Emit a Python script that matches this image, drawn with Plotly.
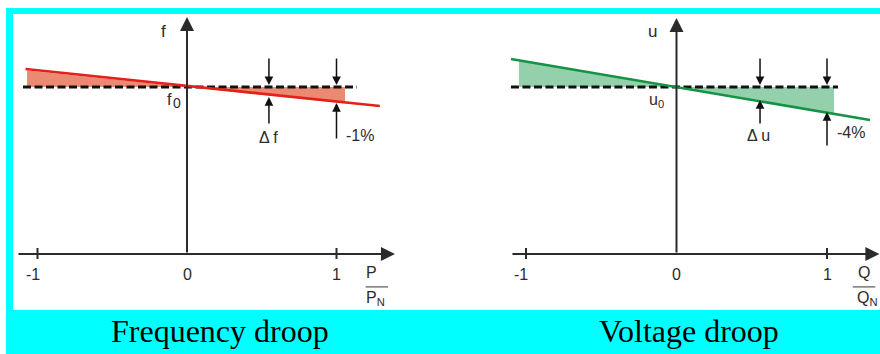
import plotly.graph_objects as go

# ---------------- data ----------------
ticks = [-1, 0, 1]
tick_labels = ["-1", "0", "1"]
ref_level = 1.0            # f0 / u0 reference level (x axis at 0)

# frequency droop (left)
freq_line_x = [-1.08, 1.29]
freq_line_y = [1.108, 0.886]
freq_fill_x = [-1.07, -1.07, 0.0, 1.057, 1.057, 0.0, -1.07]
freq_fill_y = [1.0, 1.0995, 1.0, 0.9017, 1.0, 1.0, 1.0]
freq_dash_x = [-1.097, 1.137]
freq_mark_x = [0.548, 1.0]          # positions of Δf and -1% markers
freq_mark_tip = [0.940, 0.904]      # droop line level at markers
freq_mark_tail = [0.772, 0.683]
freq_labels = ["\u0394 f", "-1%"]

# voltage droop (right)
volt_line_x = [-1.10, 1.286]
volt_line_y = [1.168, 0.802]
volt_fill_x = [-1.047, -1.047, 0.0, 1.047, 1.047, 0.0, -1.047]
volt_fill_y = [1.0, 1.1606, 1.0, 0.8394, 1.0, 1.0, 1.0]
volt_dash_x = [-1.10, 1.073]
volt_mark_x = [0.555, 1.0]
volt_mark_tip = [0.922, 0.850]
volt_mark_tail = [0.772, 0.641]
volt_labels = ["\u0394 u", "-4%"]

captions = ["Frequency droop", "Voltage droop"]

# ---------------- figure ----------------
W, H = 880, 354
AX = "#2b2b2b"
SANS = "Liberation Sans, Arial, sans-serif"
SERIF = "Liberation Serif, Times New Roman, serif"

fig = go.Figure()

def panel(xr, yr, fill_x, fill_y, fill_col, line_x, line_y, line_col, dash_x):
    fig.add_trace(go.Scatter(x=fill_x, y=fill_y, mode="lines", fill="toself",
                             fillcolor=fill_col, line=dict(width=0), xaxis=xr, yaxis=yr,
                             hoverinfo="skip", showlegend=False))
    fig.add_trace(go.Scatter(x=dash_x, y=[ref_level, ref_level], mode="lines",
                             line=dict(color="#111", width=3, dash="8px,3.5px"),
                             xaxis=xr, yaxis=yr, hoverinfo="skip", showlegend=False))
    fig.add_trace(go.Scatter(x=line_x, y=line_y, mode="lines",
                             line=dict(color=line_col, width=2.6),
                             xaxis=xr, yaxis=yr, hoverinfo="skip", showlegend=False))

panel("x", "y", freq_fill_x, freq_fill_y, "rgb(236,137,114)", freq_line_x, freq_line_y,
      "rgb(226,34,26)", freq_dash_x)
panel("x2", "y2", volt_fill_x, volt_fill_y, "rgb(148,208,172)", volt_line_x, volt_line_y,
      "rgb(22,146,70)", volt_dash_x)

annotations = []
shapes = []

# background bands
shapes.append(dict(type="rect", xref="paper", yref="paper", x0=6 / W, x1=1.0,
                   y0=0, y1=1 - 8 / H, fillcolor="#00ffff", line=dict(width=0), layer="below"))
shapes.append(dict(type="rect", xref="paper", yref="paper", x0=13 / W, x1=1.0,
                   y0=1 - 310 / H, y1=1 - 14 / H, fillcolor="#ffffff", line=dict(width=0),
                   layer="below"))

def arrow(xr, yr, x, y, ax, ay, width, size, color=AX, head=2):
    annotations.append(dict(xref=xr, yref=yr, axref=xr, ayref=yr, x=x, y=y, ax=ax, ay=ay,
                            text="", showarrow=True, arrowhead=head, arrowwidth=width,
                            arrowsize=size, arrowcolor=color, standoff=0, startstandoff=0))

def text(xr, yr, x, y, t, size=16, xanchor="center", yanchor="middle", font=SANS, color=AX):
    annotations.append(dict(xref=xr, yref=yr, x=x, y=y, text=t, showarrow=False,
                            xanchor=xanchor, yanchor=yanchor,
                            font=dict(family=font, size=size, color=color)))

def axes_deco(xr, yr, x_start, x_tip, y_tip, ylab, frac_top, frac_bot, frac_x, line_x, bot_x):
    # axes with arrow heads
    arrow(xr, yr, x_tip, 0, x_start, 0, 2, 1.4)
    arrow(xr, yr, 0, y_tip, 0, 0, 2, 1.4)
    # ticks
    for t, lab in zip(ticks, tick_labels):
        if t != 0:
            shapes.append(dict(type="line", xref=xr, yref=yr, x0=t, x1=t, y0=-0.03, y1=0.036,
                               line=dict(color=AX, width=2)))
        text(xr, yr, t - (0.03 if t < 0 else 0), -0.12, lab)
    # axis name
    text(xr, yr, -0.158, 1.33, ylab, size=17)
    # fraction label on x axis
    text(xr, yr, frac_x, -0.11, frac_top, size=16)
    shapes.append(dict(type="line", xref=xr, yref=yr, x0=line_x - 0.075, x1=line_x + 0.075,
                       y0=-0.197, y1=-0.197, line=dict(color="#555", width=1.2)))
    text(xr, yr, bot_x, -0.265, frac_bot, size=16, xanchor="left")

axes_deco("x", "y", -1.137, 1.391, 1.419, "f", "P", "P<sub>N</sub>", 1.237, 1.27, 1.185)
axes_deco("x2", "y2", -1.10, 1.348, 1.413, "u", "Q", "Q<sub>N</sub>", 1.243, 1.246, 1.183)

# reference level labels
text("x", "y", -0.12, 0.928, "f", size=16)
text("x", "y", -0.066, 0.905, "0", size=14)
text("x2", "y2", -0.13, 0.92, "u<sub>0</sub>", size=16)

def markers(xr, yr, mx, tips, tails, labels, lab_dx, lab_y):
    for x, tip, tail, lab, dx, ly in zip(mx, tips, tails, labels, lab_dx, lab_y):
        arrow(xr, yr, x, 1.012, x, 1.18, 1.5, 1.15, color="#111")
        arrow(xr, yr, x, tip, x, tail, 1.5, 1.15, color="#111")
        text(xr, yr, x + dx, ly, lab, size=16)

markers("x", "y", freq_mark_x, freq_mark_tip, freq_mark_tail, freq_labels,
        [0.0, 0.16], [0.70, 0.71])
markers("x2", "y2", volt_mark_x, volt_mark_tip, volt_mark_tail, volt_labels,
        [-0.01, 0.16], [0.71, 0.73])

# captions
text("paper", "paper", 220 / W, 1 - 331 / H, captions[0], size=32, font=SERIF, color="#000")
text("paper", "paper", 689 / W, 1 - 331 / H, captions[1], size=32, font=SERIF, color="#000")

# axis mapping: left pixel = 187 + 149.5*x ; right pixel = 676.5 + 150.5*x ; y pixel = 254 - 167*y
ax_common = dict(visible=False, fixedrange=True)
fig.update_layout(
    width=W, height=H, margin=dict(l=0, r=0, t=0, b=0),
    paper_bgcolor="#ffffff", plot_bgcolor="rgba(0,0,0,0)",
    xaxis=dict(domain=[0, 0.5], range=[-187 / 149.5, (440 - 187) / 149.5], **ax_common),
    yaxis=dict(domain=[0, 1], range=[(254 - 354) / 167, 254 / 167], **ax_common),
    xaxis2=dict(domain=[0.5, 1], range=[(440 - 676.5) / 150.5, (880 - 676.5) / 150.5],
                anchor="y2", **ax_common),
    yaxis2=dict(domain=[0, 1], range=[(254 - 354) / 167, 254 / 167], anchor="x2", **ax_common),
    annotations=annotations, shapes=shapes, showlegend=False,
)

fig.write_html("out.html", config={"displayModeBar": False},
               post_script="document.body.style.margin='0';document.body.style.overflow='hidden';")
